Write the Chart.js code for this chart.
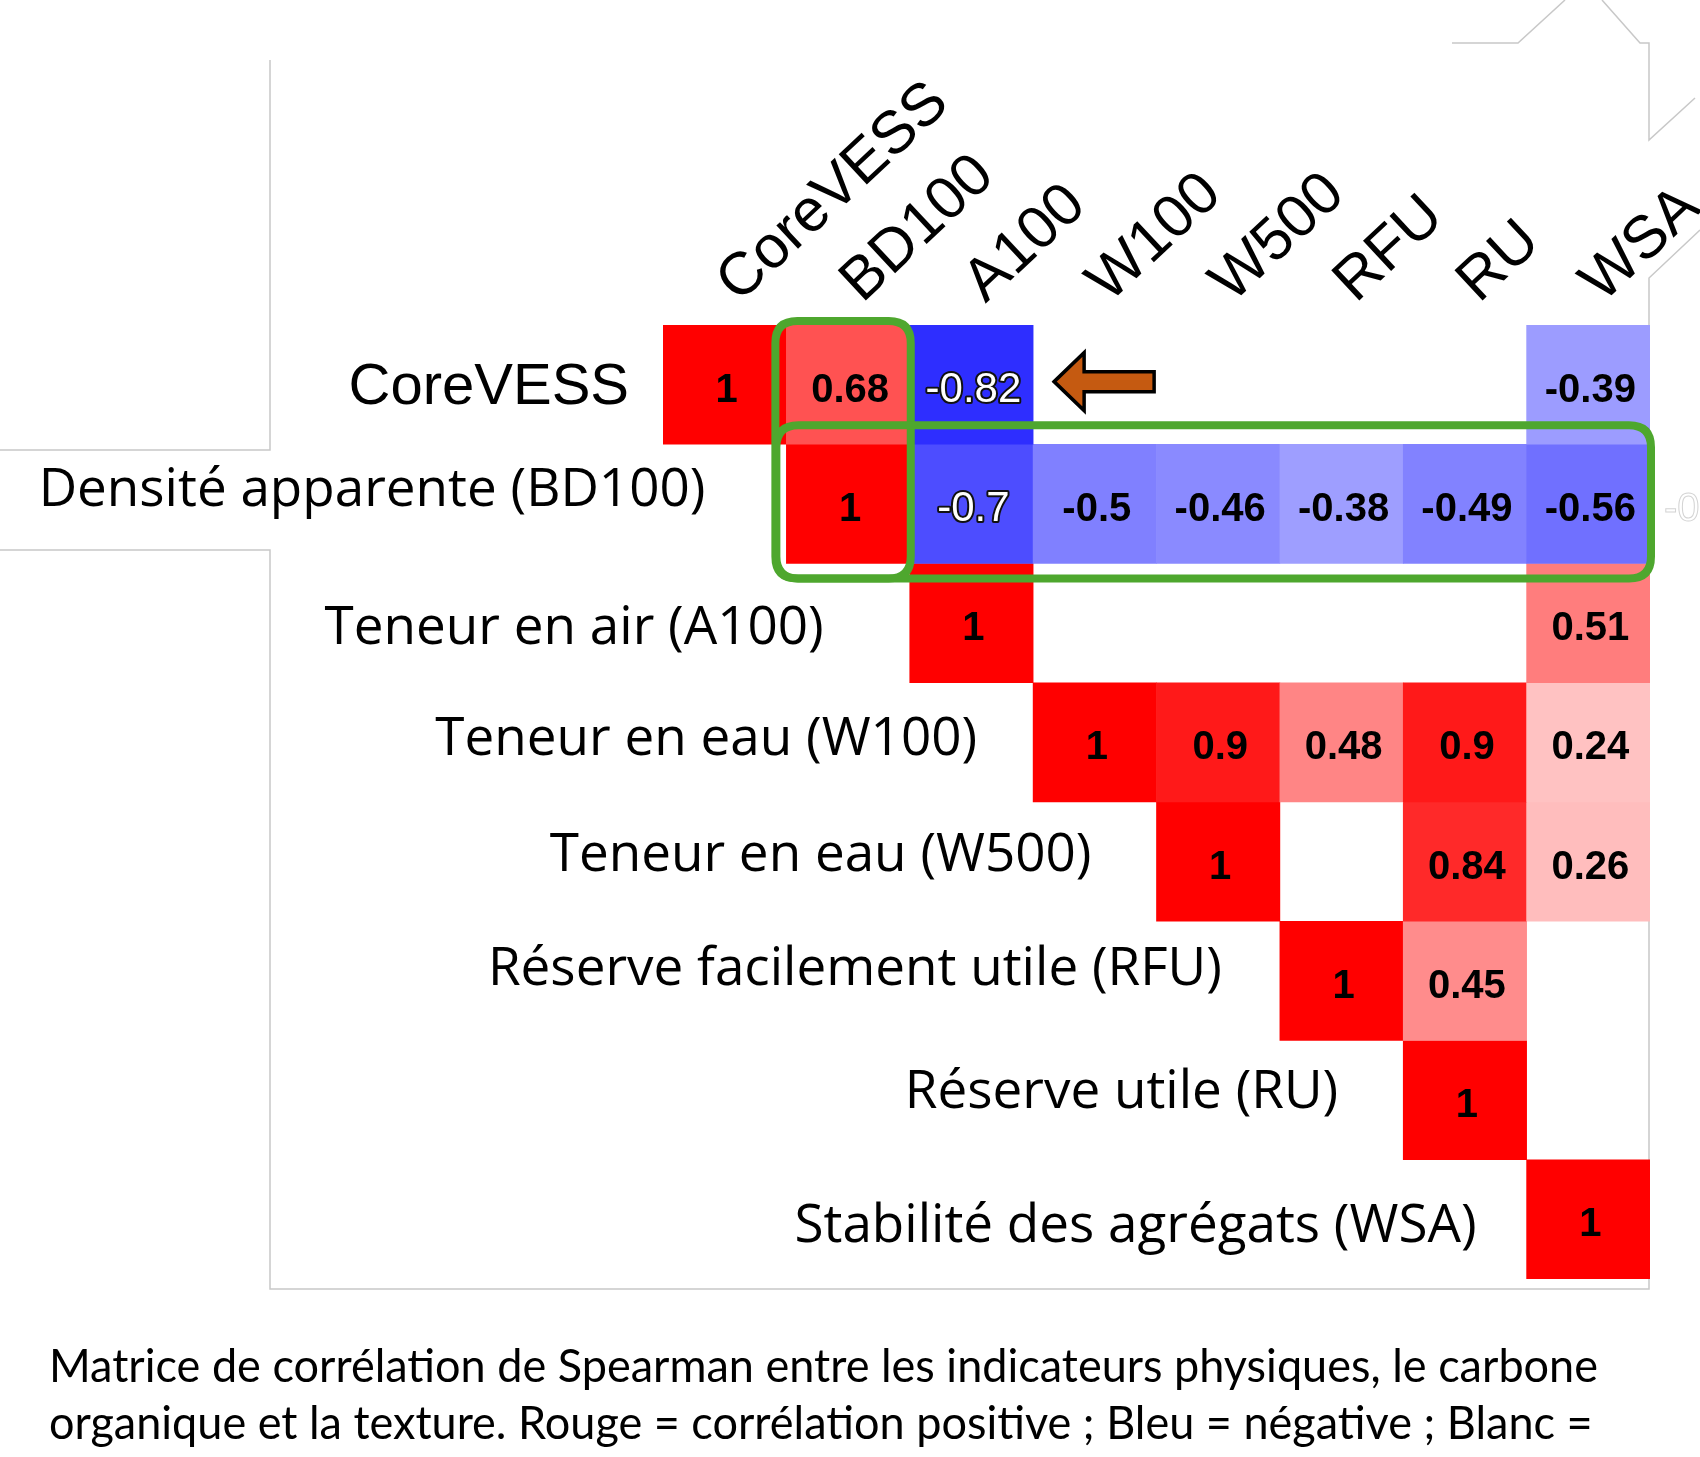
<!DOCTYPE html>
<html>
<head>
<meta charset="utf-8">
<title>Matrice de corrélation</title>
<script src="https://cdn.jsdelivr.net/npm/chart.js@4.4.1/dist/chart.umd.min.js"></script>
<style>
  html, body { margin: 0; padding: 0; background: #fff; }
  #wrap { width: 1700px; height: 1457px; }
</style>
</head>
<body>
<div id="wrap"><canvas id="myChart" width="1700" height="1457"></canvas></div>
<script>
// Variables (colonnes) et libellés des lignes
const variables = ['CoreVESS', 'BD100', 'A100', 'W100', 'W500', 'RFU', 'RU', 'WSA'];
const rowLabels = [
  'CoreVESS',
  'Densité apparente (BD100)',
  'Teneur en air (A100)',
  'Teneur en eau (W100)',
  'Teneur en eau (W500)',
  'Réserve facilement utile (RFU)',
  'Réserve utile (RU)',
  'Stabilité des agrégats (WSA)'
];

// null = case blanche (non significatif ou sous la diagonale)
const rowCoreVESS = [1, 0.68, -0.82, null, null, null, null, -0.39];
const rowBD100    = [null, 1, -0.7, -0.5, -0.46, -0.38, -0.49, -0.56];
const rowA100     = [null, null, 1, null, null, null, null, 0.51];
const rowW100     = [null, null, null, 1, 0.9, 0.48, 0.9, 0.24];
const rowW500     = [null, null, null, null, 1, null, 0.84, 0.26];
const rowRFU      = [null, null, null, null, null, 1, 0.45, null];
const rowRU       = [null, null, null, null, null, null, 1, null];
const rowWSA      = [null, null, null, null, null, null, null, 1];

const captionLines = [
  'Matrice de corrélation de Spearman entre les indicateurs physiques, le carbone',
  'organique et la texture. Rouge = corrélation positive ; Bleu = négative ; Blanc ='
];

const matrix = [rowCoreVESS, rowBD100, rowA100, rowW100, rowW500, rowRFU, rowRU, rowWSA];

// mise en page des libellés de lignes (escalier)
const labelGap = [34, 81, 86, 56, 65, 58, 65, 50];
const labelShiftY = [3, -13, 6, -2, -6, -11, -7, 8];

function corrColor(v) {
  const c = Math.round(255 * (1 - Math.abs(v)));
  return v >= 0 ? 'rgb(255,' + c + ',' + c + ')' : 'rgb(' + c + ',' + c + ',255)';
}

function roundedRect(ctx, x, y, w, h, r) {
  ctx.beginPath();
  ctx.moveTo(x + r, y);
  ctx.lineTo(x + w - r, y);
  ctx.quadraticCurveTo(x + w, y, x + w, y + r);
  ctx.lineTo(x + w, y + h - r);
  ctx.quadraticCurveTo(x + w, y + h, x + w - r, y + h);
  ctx.lineTo(x + r, y + h);
  ctx.quadraticCurveTo(x, y + h, x, y + h - r);
  ctx.lineTo(x, y + r);
  ctx.quadraticCurveTo(x, y, x + r, y);
  ctx.closePath();
}

const datasets = matrix.map(function(row, r) {
  return {
    label: rowLabels[r],
    data: row.map(v => v === null ? null : [r - 0.5, r + 0.5]),
    backgroundColor: row.map(v => v === null ? 'rgba(0,0,0,0)' : corrColor(v)),
    borderWidth: 0,
    barPercentage: 1,
    categoryPercentage: 1,
    grouped: false
  };
});

const decorations = {
  id: 'decorations',
  beforeDraw(chart) {
    const ctx = chart.ctx;
    ctx.save();
    ctx.fillStyle = '#fff';
    ctx.fillRect(0, 0, chart.width, chart.height);
    // bords gris de l'image collée
    ctx.strokeStyle = '#c8c8c8';
    ctx.lineWidth = 1.5;
    const segs = [
      [[270, 60], [270, 450], [0, 450]],
      [[0, 550], [270, 550], [270, 1289], [1649, 1289], [1649, 278], [1700, 230]],
      [[1452, 43], [1518, 43], [1565, 0]],
      [[1602, 0], [1640, 43], [1649, 43], [1649, 140], [1695, 98]]
    ];
    segs.forEach(function(s) {
      ctx.beginPath();
      ctx.moveTo(s[0][0], s[0][1]);
      for (let i = 1; i < s.length; i++) ctx.lineTo(s[i][0], s[i][1]);
      ctx.stroke();
    });
    ctx.restore();
  },
  afterDatasetsDraw(chart) {
    const ctx = chart.ctx;
    const xs = chart.scales.x;
    const ys = chart.scales.y;
    ctx.save();
    ctx.textAlign = 'center';
    ctx.textBaseline = 'middle';
    // valeurs dans les cases
    matrix.forEach(function(row, r) {
      const meta = chart.getDatasetMeta(r);
      row.forEach(function(v, c) {
        if (v === null) return;
        const el = meta.data[c];
        const cx = el.x + 2;
        const cy = (el.y + el.base) / 2 + 6;
        const txt = String(v);
        if (v <= -0.7) {
          ctx.font = '42px "Liberation Sans", Arial, sans-serif';
          ctx.lineWidth = 4;
          ctx.lineJoin = 'round';
          ctx.strokeStyle = '#111';
          ctx.strokeText(txt, cx, cy);
          ctx.fillStyle = '#fff';
          ctx.fillText(txt, cx, cy);
        } else {
          ctx.font = 'bold 40px "Liberation Sans", Arial, sans-serif';
          ctx.fillStyle = '#000';
          ctx.fillText(txt, cx, cy);
        }
      });
    });

    // encadrés verts
    const cw = xs.getPixelForValue(1) - xs.getPixelForValue(0);
    const ch = ys.getPixelForValue(1) - ys.getPixelForValue(0);
    ctx.strokeStyle = '#4EA72E';
    ctx.lineWidth = 8;
    const b1l = xs.getPixelForValue(1) - cw / 2 - 11;
    const b1r = xs.getPixelForValue(1) + cw / 2 + 1;
    const b1t = ys.getPixelForValue(0) - ch / 2 - 4;
    const bb = ys.getPixelForValue(1) + ch / 2 + 15;
    roundedRect(ctx, b1l, b1t, b1r - b1l, bb - b1t, 22);
    ctx.stroke();
    const b2r = xs.getPixelForValue(7) + cw / 2 + 1;
    const b2t = ys.getPixelForValue(1) - ch / 2 - 19;
    roundedRect(ctx, b1l + 1, b2t, b2r - b1l - 1, bb - b2t, 22);
    ctx.stroke();

    // flèche
    const tipX = xs.getPixelForValue(2) + cw / 2 + 21;
    const tipY = ys.getPixelForValue(0) - 3;
    ctx.beginPath();
    ctx.moveTo(tipX, tipY);
    ctx.lineTo(tipX + 30, tipY - 29);
    ctx.lineTo(tipX + 30, tipY - 10);
    ctx.lineTo(tipX + 100, tipY - 10);
    ctx.lineTo(tipX + 100, tipY + 10);
    ctx.lineTo(tipX + 30, tipY + 10);
    ctx.lineTo(tipX + 30, tipY + 29);
    ctx.closePath();
    ctx.fillStyle = '#C55A11';
    ctx.fill();
    ctx.lineWidth = 3.5;
    ctx.lineJoin = 'miter';
    ctx.strokeStyle = '#000';
    ctx.stroke();
    ctx.restore();
  },
  afterDraw(chart) {
    const ctx = chart.ctx;
    const xs = chart.scales.x;
    const ys = chart.scales.y;
    const cw = xs.getPixelForValue(1) - xs.getPixelForValue(0);
    ctx.save();
    // libellés des lignes
    ctx.textAlign = 'right';
    ctx.textBaseline = 'middle';
    ctx.fillStyle = '#000';
    rowLabels.forEach(function(lab, r) {
      ctx.font = r === 0 ? '58px "Liberation Sans", Arial, sans-serif' : '53px "Open Sans", sans-serif';
      const x = xs.getPixelForValue(r) - cw / 2 - labelGap[r];
      const y = ys.getPixelForValue(r) + labelShiftY[r];
      ctx.fillText(lab, x, y);
    });

    // texte fantôme à droite
    ctx.textAlign = 'left';
    ctx.font = '40px "Liberation Sans", Arial, sans-serif';
    ctx.strokeStyle = '#d4d4d4';
    ctx.lineWidth = 1;
    ctx.strokeText('-0', 1664, ys.getPixelForValue(1) + 6);

    // légende sous la figure
    ctx.font = '46px Lato, "Open Sans", sans-serif';
    ctx.textBaseline = 'alphabetic';
    ctx.fillStyle = '#000';
    const w = ctx.measureText(captionLines[0]).width;
    const sx = 1549 / w;
    ctx.translate(49, 0);
    ctx.scale(sx, 1);
    ctx.fillText(captionLines[0], 0, 1382);
    ctx.fillText(captionLines[1], 0, 1439);
    ctx.restore();
  }
};

const ctx = document.getElementById('myChart').getContext('2d');
const myChart = new Chart(ctx, {
  type: 'bar',
  data: {
    labels: variables,
    datasets: datasets
  },
  options: {
    responsive: false,
    animation: false,
    devicePixelRatio: 1,
    layout: { padding: { left: 663, right: 50, top: 0, bottom: 178 } },
    plugins: {
      legend: { display: false },
      tooltip: { enabled: false }
    },
    scales: {
      x: {
        type: 'category',
        position: 'top',
        offset: true,
        grid: { display: false, drawTicks: false },
        border: { display: false },
        ticks: {
          autoSkip: false,
          minRotation: 43,
          maxRotation: 43,
          padding: 7,
          labelOffset: 52,
          color: '#000',
          font: { family: '"Liberation Sans", Arial, sans-serif', size: 60 }
        },
        afterFit(scale) {
          scale.height = 325;
          scale.paddingLeft = 0;
          scale.paddingRight = 0;
        }
      },
      y: {
        type: 'linear',
        min: -0.5,
        max: 7.5,
        reverse: true,
        display: false
      }
    }
  },
  plugins: [decorations]
});
</script>
</body>
</html>
